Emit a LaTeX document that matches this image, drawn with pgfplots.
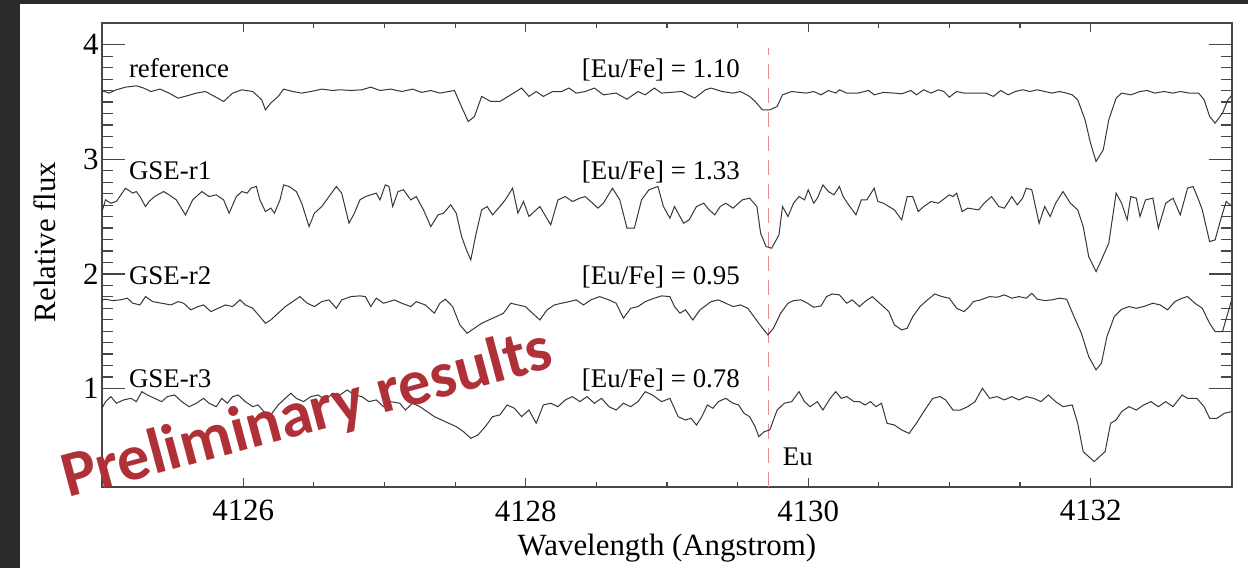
\documentclass[border=0pt]{standalone}
\usepackage{fontspec}
\setmainfont{Liberation Serif}
\newfontfamily\wmfont{Carlito}
\usepackage{pgfplots}
\pgfplotsset{compat=1.18}
\definecolor{bgdark}{RGB}{43,43,43}
\definecolor{eured}{RGB}{232,140,140}
\definecolor{wmred}{RGB}{176,48,56}
\definecolor{spec}{RGB}{55,55,55}
\definecolor{axgray}{RGB}{70,70,70}
\begin{document}
\begin{tikzpicture}
\fill[bgdark] (0,0) rectangle (1248bp,568bp);
\fill[white] (20bp,0) rectangle (1248bp,564bp);
\begin{axis}[
  at={(102bp,81bp)}, anchor=south west,
  scale only axis, width=1130bp, height=464bp,
  xmin=4125, xmax=4133, ymin=0.14, ymax=4.19,
  xtick={4126,4128,4130,4132}, xticklabels={4126,4128,4130,4132},
  ytick={1,2,3,4}, yticklabels={1,2,3,4},
  minor x tick num=3, minor y tick num=9,
  tick align=inside,
  axis line style={axgray, line width=1.2bp},
  every tick/.style={axgray, line width=1.2bp},
  every major x tick/.append style={/pgfplots/major tick length=9bp},
  every minor x tick/.append style={/pgfplots/minor tick length=5bp},
  every major y tick/.append style={/pgfplots/major tick length=23bp},
  every minor y tick/.append style={/pgfplots/minor tick length=11bp},
  ticklabel style={font=\fontsize{31}{31}\selectfont},
  xticklabel style={yshift=-10bp},
  xlabel={Wavelength (Angstrom)},
  ylabel={Relative flux},
  xlabel style={at={(axis description cs:0.5,-0.1487)}, anchor=base, font=\fontsize{31}{31}\selectfont},
  ylabel style={at={(axis description cs:-0.0504,0.528)}, anchor=center, font=\fontsize{31}{31}\selectfont},
  clip=true,
]
% Eu line
\addplot[eured, line width=1.5bp, dash pattern=on 15bp off 9bp] coordinates {(4129.72,0.14) (4129.72,3.97)};
% reference
\addplot[spec, line width=1bp] coordinates {
(4125.000,3.600)(4125.050,3.578)(4125.102,3.607)(4125.166,3.630)(4125.243,3.642)(4125.295,3.622)(4125.346,3.592)(4125.411,3.613)(4125.475,3.578)(4125.539,3.534)(4125.604,3.555)(4125.668,3.578)(4125.732,3.592)(4125.797,3.549)(4125.861,3.505)(4125.925,3.578)(4125.990,3.607)(4126.067,3.592)(4126.131,3.520)(4126.157,3.432)(4126.195,3.491)(4126.247,3.549)(4126.286,3.613)(4126.350,3.592)(4126.414,3.578)(4126.479,3.592)(4126.556,3.613)(4126.633,3.601)(4126.684,3.607)(4126.762,3.601)(4126.839,3.607)(4126.903,3.630)(4126.968,3.601)(4127.045,3.613)(4127.122,3.592)(4127.199,3.613)(4127.263,3.584)(4127.328,3.601)(4127.392,3.578)(4127.456,3.592)(4127.495,3.601)(4127.534,3.491)(4127.593,3.330)(4127.637,3.374)(4127.688,3.549)(4127.752,3.505)(4127.817,3.505)(4127.894,3.563)(4127.971,3.622)(4128.023,3.549)(4128.074,3.592)(4128.125,3.549)(4128.190,3.592)(4128.254,3.592)(4128.306,3.622)(4128.357,3.578)(4128.421,3.592)(4128.486,3.622)(4128.550,3.563)(4128.640,3.578)(4128.717,3.525)(4128.795,3.592)(4128.846,3.563)(4128.910,3.622)(4128.962,3.578)(4129.021,3.584)
(4129.105,3.592)(4129.196,3.534)(4129.273,3.607)(4129.312,3.622)(4129.390,3.592)(4129.468,3.578)(4129.520,3.592)(4129.585,3.549)(4129.624,3.505)(4129.676,3.432)(4129.728,3.432)(4129.780,3.461)(4129.818,3.563)(4129.883,3.592)(4129.987,3.578)(4130.039,3.592)(4130.091,3.563)(4130.143,3.601)(4130.195,3.578)(4130.221,3.607)(4130.273,3.578)(4130.351,3.578)(4130.428,3.601)(4130.467,3.563)(4130.532,3.584)(4130.610,3.578)(4130.662,3.572)(4130.727,3.601)(4130.766,3.563)(4130.818,3.607)(4130.870,3.578)(4130.921,3.607)(4130.960,3.592)(4130.999,3.543)(4131.051,3.592)(4131.103,3.578)(4131.181,3.578)(4131.259,3.578)(4131.311,3.549)(4131.363,3.601)(4131.415,3.563)(4131.467,3.592)(4131.518,3.607)(4131.570,3.592)(4131.622,3.607)(4131.674,3.592)(4131.726,3.578)(4131.778,3.592)(4131.830,3.578)(4131.869,3.563)(4131.908,3.520)(4131.960,3.345)(4131.999,3.141)(4132.038,2.981)(4132.089,3.083)(4132.128,3.345)(4132.180,3.534)(4132.219,3.578)(4132.284,3.563)(4132.349,3.592)(4132.401,3.601)(4132.453,3.578)(4132.518,3.592)(4132.583,3.578)(4132.634,3.592)(4132.699,3.578)(4132.764,3.578)(4132.803,3.520)(4132.842,3.374)(4132.881,3.316)(4132.933,3.403)(4132.972,3.520)(4133.000,3.560)
};
% GSE-r1
\addplot[spec, line width=1bp] coordinates {
(4125.000,2.544)(4125.025,2.646)(4125.063,2.617)(4125.102,2.632)(4125.166,2.748)(4125.218,2.705)(4125.243,2.719)(4125.269,2.675)(4125.308,2.588)(4125.333,2.632)(4125.372,2.675)(4125.436,2.719)(4125.475,2.690)(4125.526,2.646)(4125.591,2.515)(4125.642,2.646)(4125.707,2.719)(4125.758,2.675)(4125.809,2.690)(4125.861,2.646)(4125.900,2.530)(4125.951,2.675)(4125.990,2.719)(4126.028,2.705)(4126.054,2.748)(4126.093,2.763)(4126.118,2.646)(4126.157,2.544)(4126.195,2.574)(4126.221,2.530)(4126.260,2.646)(4126.286,2.777)(4126.324,2.763)(4126.376,2.719)(4126.414,2.617)(4126.466,2.413)(4126.504,2.530)(4126.556,2.588)(4126.607,2.675)(4126.659,2.763)(4126.697,2.705)(4126.749,2.442)(4126.787,2.530)(4126.826,2.646)(4126.865,2.675)(4126.903,2.690)(4126.942,2.705)(4126.968,2.646)(4127.006,2.777)(4127.032,2.763)(4127.058,2.588)(4127.096,2.719)(4127.135,2.734)(4127.186,2.646)(4127.225,2.675)(4127.276,2.559)(4127.328,2.413)(4127.379,2.515)(4127.418,2.530)(4127.469,2.603)(4127.508,2.530)(4127.546,2.326)(4127.580,2.210)(4127.611,2.122)(4127.649,2.355)(4127.688,2.559)(4127.727,2.588)(4127.765,2.515)(4127.817,2.588)(4127.855,2.646)(4127.907,2.748)(4127.945,2.530)(4127.984,2.632)(4128.023,2.501)(4128.048,2.530)(4128.100,2.588)(4128.177,2.428)(4128.228,2.646)(4128.280,2.675)(4128.331,2.632)(4128.383,2.661)(4128.421,2.675)(4128.460,2.632)(4128.511,2.574)(4128.550,2.617)(4128.614,2.748)(4128.666,2.646)(4128.717,2.399)(4128.769,2.399)(4128.820,2.646)(4128.872,2.734)(4128.936,2.763)(4128.975,2.588)(4129.021,2.486)
(4129.053,2.588)(4129.118,2.442)(4129.157,2.472)(4129.209,2.588)(4129.260,2.617)(4129.299,2.559)(4129.338,2.515)(4129.377,2.588)(4129.416,2.617)(4129.468,2.574)(4129.533,2.646)(4129.585,2.661)(4129.637,2.588)(4129.663,2.355)(4129.702,2.239)(4129.741,2.224)(4129.767,2.282)(4129.793,2.341)(4129.818,2.588)(4129.857,2.501)(4129.896,2.617)(4129.935,2.675)(4129.974,2.646)(4130.000,2.734)(4130.039,2.617)(4130.065,2.661)(4130.104,2.777)(4130.143,2.719)(4130.182,2.690)(4130.221,2.763)(4130.247,2.675)(4130.286,2.603)(4130.338,2.515)(4130.376,2.646)(4130.415,2.646)(4130.467,2.748)(4130.493,2.632)(4130.532,2.617)(4130.571,2.588)(4130.610,2.559)(4130.662,2.472)(4130.701,2.675)(4130.740,2.675)(4130.779,2.544)(4130.818,2.588)(4130.870,2.632)(4130.921,2.617)(4130.999,2.690)(4131.025,2.675)(4131.051,2.705)(4131.090,2.544)(4131.129,2.574)(4131.207,2.559)(4131.246,2.617)(4131.298,2.675)(4131.350,2.588)(4131.389,2.574)(4131.441,2.675)(4131.480,2.603)(4131.518,2.661)(4131.544,2.748)(4131.583,2.734)(4131.635,2.442)(4131.674,2.588)(4131.713,2.501)(4131.752,2.617)(4131.804,2.719)(4131.856,2.617)(4131.908,2.559)(4131.947,2.413)(4131.986,2.151)(4132.038,2.020)(4132.076,2.122)(4132.128,2.268)(4132.180,2.705)(4132.219,2.617)(4132.258,2.472)(4132.284,2.675)(4132.323,2.661)(4132.349,2.501)(4132.388,2.646)(4132.440,2.661)(4132.479,2.399)(4132.531,2.617)(4132.583,2.661)(4132.634,2.515)(4132.686,2.748)(4132.725,2.763)(4132.764,2.646)(4132.790,2.559)(4132.842,2.282)(4132.881,2.297)(4132.920,2.472)(4132.959,2.632)(4133.000,2.590)
};
% GSE-r2
\addplot[spec, line width=1bp] coordinates {
(4125.000,1.773)(4125.025,1.779)(4125.076,1.767)(4125.128,1.773)(4125.179,1.788)(4125.218,1.744)(4125.269,1.729)(4125.308,1.802)(4125.359,1.758)(4125.423,1.744)(4125.488,1.729)(4125.539,1.758)(4125.578,1.744)(4125.629,1.686)(4125.681,1.715)(4125.719,1.729)(4125.771,1.671)(4125.822,1.700)(4125.874,1.729)(4125.925,1.715)(4125.977,1.773)(4126.015,1.729)(4126.067,1.700)(4126.118,1.627)(4126.157,1.569)(4126.195,1.598)(4126.247,1.657)(4126.298,1.715)(4126.350,1.758)(4126.401,1.802)(4126.453,1.744)(4126.504,1.715)(4126.556,1.758)(4126.607,1.773)(4126.659,1.700)(4126.697,1.773)(4126.762,1.802)(4126.826,1.808)(4126.865,1.802)(4126.903,1.715)(4126.942,1.788)(4126.993,1.744)(4127.032,1.758)(4127.070,1.773)(4127.122,1.744)(4127.186,1.715)(4127.225,1.758)(4127.289,1.729)(4127.353,1.657)(4127.392,1.744)(4127.431,1.779)(4127.482,1.715)(4127.534,1.555)(4127.585,1.482)(4127.637,1.526)(4127.688,1.569)(4127.739,1.598)(4127.791,1.627)(4127.842,1.657)(4127.894,1.744)(4127.945,1.729)(4127.997,1.715)(4128.048,1.657)(4128.100,1.598)(4128.151,1.686)(4128.203,1.729)(4128.254,1.744)(4128.306,1.758)(4128.357,1.773)(4128.409,1.729)(4128.460,1.773)(4128.524,1.802)(4128.589,1.773)(4128.640,1.744)(4128.692,1.613)(4128.743,1.700)(4128.795,1.715)(4128.846,1.758)(4128.910,1.788)(4128.962,1.808)(4129.021,1.802)
(4129.053,1.715)(4129.092,1.657)(4129.131,1.686)(4129.183,1.598)(4129.234,1.686)(4129.312,1.758)(4129.364,1.773)(4129.416,1.744)(4129.468,1.715)(4129.520,1.729)(4129.572,1.700)(4129.624,1.613)(4129.676,1.526)(4129.715,1.467)(4129.754,1.526)(4129.805,1.657)(4129.857,1.744)(4129.896,1.767)(4129.948,1.773)(4129.987,1.750)(4130.039,1.709)(4130.091,1.721)(4130.130,1.802)(4130.169,1.825)(4130.221,1.817)(4130.273,1.744)(4130.312,1.773)(4130.363,1.715)(4130.402,1.758)(4130.454,1.802)(4130.493,1.758)(4130.532,1.715)(4130.571,1.671)(4130.610,1.555)(4130.662,1.511)(4130.701,1.526)(4130.740,1.627)(4130.792,1.715)(4130.844,1.773)(4130.896,1.825)(4130.947,1.802)(4130.999,1.788)(4131.051,1.700)(4131.103,1.671)(4131.142,1.715)(4131.168,1.758)(4131.220,1.773)(4131.285,1.802)(4131.337,1.796)(4131.389,1.817)(4131.441,1.788)(4131.492,1.802)(4131.544,1.788)(4131.583,1.831)(4131.622,1.779)(4131.674,1.767)(4131.726,1.773)(4131.778,1.788)(4131.830,1.779)(4131.882,1.627)(4131.934,1.482)(4131.986,1.278)(4132.038,1.162)(4132.076,1.220)(4132.115,1.453)(4132.167,1.627)(4132.219,1.691)(4132.271,1.715)(4132.323,1.700)(4132.375,1.715)(4132.440,1.744)(4132.492,1.729)(4132.544,1.686)(4132.596,1.758)(4132.647,1.788)(4132.686,1.802)(4132.738,1.744)(4132.790,1.700)(4132.842,1.569)(4132.881,1.496)(4132.933,1.496)(4132.998,1.773)
};
% GSE-r3
\addplot[spec, line width=1bp] coordinates {
(4125.000,0.827)(4125.025,0.885)(4125.063,0.929)(4125.102,0.871)(4125.153,0.900)(4125.205,0.914)(4125.243,0.885)(4125.282,0.972)(4125.321,0.943)(4125.372,0.914)(4125.423,0.885)(4125.462,0.929)(4125.514,0.943)(4125.565,0.885)(4125.616,0.841)(4125.668,0.871)(4125.719,0.914)(4125.758,0.871)(4125.809,0.841)(4125.848,0.914)(4125.887,0.871)(4125.925,0.929)(4125.964,0.943)(4126.015,0.885)(4126.067,0.841)(4126.105,0.856)(4126.157,0.783)(4126.195,0.769)(4126.247,0.856)(4126.298,0.914)(4126.337,0.958)(4126.376,0.914)(4126.427,0.885)(4126.479,0.929)(4126.530,0.943)(4126.582,0.900)(4126.633,0.958)(4126.684,0.943)(4126.736,0.987)(4126.787,0.943)(4126.839,0.929)(4126.890,0.885)(4126.942,0.900)(4126.993,0.841)(4127.045,0.885)(4127.109,0.871)(4127.148,0.812)(4127.199,0.871)(4127.251,0.841)(4127.302,0.798)(4127.353,0.754)(4127.405,0.725)(4127.456,0.696)(4127.508,0.667)(4127.559,0.623)(4127.611,0.565)(4127.662,0.594)(4127.714,0.667)(4127.765,0.754)(4127.817,0.769)(4127.868,0.856)(4127.920,0.827)(4127.971,0.754)(4128.023,0.812)(4128.074,0.696)(4128.125,0.856)(4128.177,0.871)(4128.228,0.841)(4128.280,0.900)(4128.331,0.929)(4128.383,0.885)(4128.434,0.929)(4128.486,0.871)(4128.537,0.914)(4128.589,0.841)(4128.640,0.812)(4128.692,0.871)(4128.743,0.841)(4128.795,0.885)(4128.846,0.972)(4128.897,0.943)(4128.962,0.885)(4129.021,0.914)
(4129.079,0.754)(4129.131,0.725)(4129.170,0.740)(4129.209,0.681)(4129.247,0.754)(4129.286,0.856)(4129.325,0.827)(4129.364,0.885)(4129.416,0.914)(4129.468,0.871)(4129.507,0.856)(4129.546,0.783)(4129.585,0.754)(4129.624,0.667)(4129.650,0.579)(4129.689,0.623)(4129.728,0.638)(4129.780,0.812)(4129.831,0.871)(4129.883,0.885)(4129.935,0.972)(4129.974,0.885)(4130.013,0.841)(4130.065,0.885)(4130.104,0.812)(4130.156,0.914)(4130.195,0.972)(4130.234,0.914)(4130.273,0.929)(4130.325,0.885)(4130.363,0.885)(4130.402,0.856)(4130.441,0.885)(4130.480,0.841)(4130.519,0.871)(4130.558,0.696)(4130.610,0.681)(4130.662,0.638)(4130.714,0.608)(4130.766,0.696)(4130.818,0.798)(4130.882,0.914)(4130.934,0.929)(4130.973,0.900)(4131.025,0.812)(4131.077,0.812)(4131.129,0.841)(4131.181,0.885)(4131.233,1.002)(4131.285,0.914)(4131.337,0.929)(4131.389,0.900)(4131.441,0.929)(4131.492,0.900)(4131.544,0.929)(4131.596,0.914)(4131.648,0.885)(4131.700,0.943)(4131.752,0.885)(4131.804,0.841)(4131.869,0.856)(4131.908,0.696)(4131.947,0.448)(4131.986,0.405)(4132.025,0.361)(4132.063,0.405)(4132.102,0.448)(4132.141,0.696)(4132.180,0.725)(4132.219,0.798)(4132.271,0.841)(4132.323,0.812)(4132.375,0.856)(4132.427,0.885)(4132.479,0.841)(4132.531,0.885)(4132.583,0.841)(4132.647,0.943)(4132.686,0.914)(4132.751,0.914)(4132.803,0.841)(4132.842,0.740)(4132.894,0.740)(4132.946,0.783)(4132.998,0.798)
};
\begin{scope}[every node/.style={anchor=base west, inner sep=0pt, font=\fontsize{27}{27}\selectfont}]
\node at (axis cs:4125.19,3.712) {reference};
\node at (axis cs:4125.19,2.825) {GSE-r1};
\node at (axis cs:4125.19,1.908) {GSE-r2};
\node at (axis cs:4125.19,1.009) {GSE-r3};
\node at (axis cs:4128.397,3.712) {[Eu/Fe] = 1.10};
\node at (axis cs:4128.397,2.825) {[Eu/Fe] = 1.33};
\node at (axis cs:4128.397,1.908) {[Eu/Fe] = 0.95};
\node at (axis cs:4128.397,1.009) {[Eu/Fe] = 0.78};
\node at (axis cs:4129.82,0.332) {Eu};
\end{scope}
\end{axis}
\node[rotate=15, anchor=base west, inner sep=0pt, text=wmred, font=\wmfont\bfseries\fontsize{65}{65}\selectfont] at (68bp,70bp) {Preliminary results};
\pgfresetboundingbox
\path (0,0) rectangle (1248bp,568bp);
\end{tikzpicture}
\end{document}
